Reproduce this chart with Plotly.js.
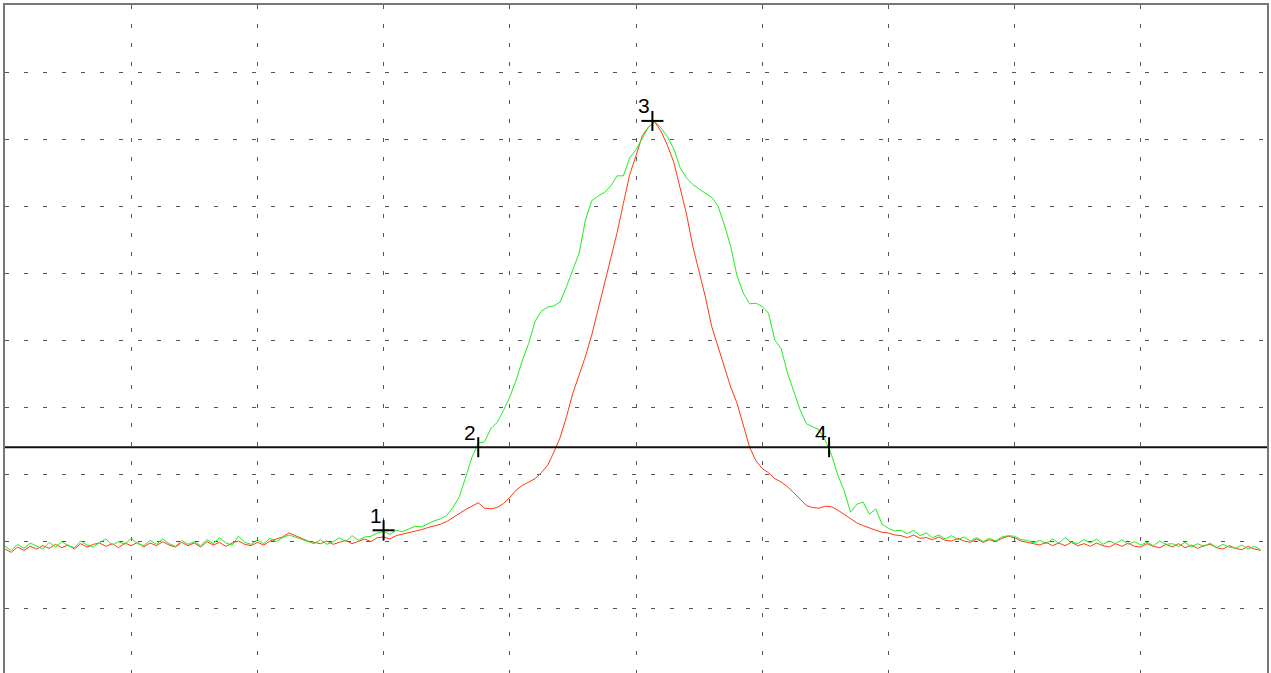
<!DOCTYPE html>
<html>
<head>
<meta charset="utf-8">
<script src="https://cdn.plot.ly/plotly-3.0.1.min.js"></script>
<style>
html,body{margin:0;padding:0;background:#fff;overflow:hidden;}
#chart{width:1271px;height:680px;}
</style>
</head>
<body>
<div id="chart"></div>
<script>
// sample spacing of the trace (data units along x)
const sampleStep = 5;

const greenValues = [
192,186,195,189,197,192,188,198,191,199,193,190,200,194,191,198,203,194,199,195,
204,196,193,201,195,203,196,192,201,195,199,193,202,196,205,197,194,207,198,195,
202,196,204,199,205,209,206,202,199,196,202,195,199,205,199,208,201,206,207,212,
214,210,216,214,218,222,221,226,230,233,238,250,266,295,325,346,348,368,377,395,
415,440,470,495,528,543,549,551,557,580,604,630,680,708,715,720,730,745,745,772,
784,802,818,826,816,803,785,757,742,732,725,719,713,700,672,640,596,570,554,555,
550,540,500,487,451,422,396,375,370,366,350,328,298,275,243,255,258,240,248,225,
219,215,216,211,216,208,212,205,209,203,208,202,206,200,205,199,204,200,206,208,
207,202,201,197,201,196,203,197,205,198,196,202,197,203,195,200,196,202,195,199,
194,198,193,200,195,196,192,198,191,196,192,197,190,195,191,189,194,188,192,187
];

const redValues = [
188,183,191,186,192,188,193,189,195,190,194,188,196,191,195,197,192,196,190,197,
193,198,191,197,193,199,194,191,198,193,197,191,199,194,198,192,197,200,195,193,
198,194,200,203,206,212,208,204,200,198,196,200,195,198,201,196,199,203,199,205,
206,203,208,210,212,214,217,220,222,225,229,235,242,247,252,257,249,248,250,256,
265,276,283,288,293,302,313,333,355,386,421,448,476,508,545,584,622,660,704,747,
775,805,818,825,811,790,765,728,688,640,604,564,520,490,462,430,406,372,340,320,
308,302,293,288,281,272,262,253,250,249,252,251,246,240,233,227,223,219,216,213,
212,209,208,205,209,204,205,202,206,201,200,204,200,198,203,198,202,199,204,207,
205,200,198,196,194,198,193,197,193,198,193,196,192,197,193,191,196,192,197,192,
191,196,192,190,195,191,196,190,194,189,193,195,190,188,193,189,187,192,188,186
];

const sampleX = greenValues.map((_, i) => i * sampleStep);

const thresholdLevel = 340;
const markerLabels = ['1', '2', '3', '4'];
const markerX = [300, 375, 513, 653];
const markerY = [216, 340, 827, 340];
const markerKind = ['cross', 'tick', 'cross', 'tick'];

const traces = [
  {x: sampleX, y: redValues, mode: 'lines', line: {color: '#ff3a12', width: 1}, hoverinfo: 'skip'},
  {x: sampleX, y: greenValues, mode: 'lines', line: {color: '#1fef1f', width: 1}, hoverinfo: 'skip'},
  {x: [0, 1000], y: [thresholdLevel, thresholdLevel], mode: 'lines', line: {color: '#111', width: 2}, hoverinfo: 'skip'}
];

// cursor marks drawn as pixel-sized shapes anchored at the marker data points
const shapes = [];
markerX.forEach((mx, i) => {
  shapes.push({
    type: 'line', xref: 'x', yref: 'y', ysizemode: 'pixel', yanchor: markerY[i],
    x0: mx, x1: mx, y0: -10, y1: 10,
    line: {color: '#000', width: 2}
  });
  if (markerKind[i] === 'cross') {
    shapes.push({
      type: 'line', xref: 'x', yref: 'y', xsizemode: 'pixel', xanchor: mx,
      x0: -11, x1: 11, y0: markerY[i], y1: markerY[i],
      line: {color: '#000', width: 2}
    });
  }
});

const annotations = markerLabels.map((t, i) => ({
  x: markerX[i], y: markerY[i], text: t, showarrow: false,
  xanchor: 'center', yanchor: 'middle', xshift: -8, yshift: 15,
  font: {family: 'Liberation Sans, Arial, sans-serif', size: 21, color: '#000'}
}));

const axisCommon = {
  range: [0, 1000], dtick: 100, tick0: 0,
  showgrid: true, gridcolor: '#555', gridwidth: 1, griddash: '4px,15px',
  zeroline: false, showticklabels: false, ticks: '',
  showline: true, mirror: true, linecolor: '#777', linewidth: 2,
  fixedrange: true
};

const layout = {
  width: 1271, height: 680,
  margin: {l: 5, r: 4, t: 5, b: 5, pad: 0},
  paper_bgcolor: '#fff', plot_bgcolor: '#fff',
  showlegend: false,
  xaxis: Object.assign({}, axisCommon),
  yaxis: Object.assign({}, axisCommon),
  shapes: shapes,
  annotations: annotations
};

Plotly.newPlot('chart', traces, layout, {staticPlot: true, displayModeBar: false});
</script>
</body>
</html>
